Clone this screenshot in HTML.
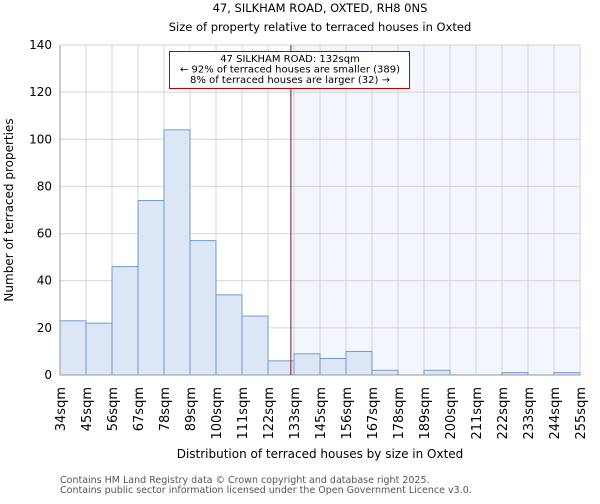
<!DOCTYPE html>
<html><head><meta charset="utf-8"><style>
body{margin:0;background:#fff;font-family:"DejaVu Sans","Liberation Sans",sans-serif;}
svg text{font-family:"DejaVu Sans","Liberation Sans",sans-serif;}
</style></head><body>
<svg id="chart" width="600" height="500" xmlns="http://www.w3.org/2000/svg">
<text x="320" y="12" text-anchor="middle" font-size="11.5">47, SILKHAM ROAD, OXTED, RH8 0NS</text>
<text x="320" y="31" text-anchor="middle" font-size="11.5">Size of property relative to terraced houses in Oxted</text>
<g id="plot"></g>
<text x="320" y="458" text-anchor="middle" font-size="12">Distribution of terraced houses by size in Oxted</text>
<text transform="translate(13,210) rotate(-90)" text-anchor="middle" font-size="12">Number of terraced properties</text>
<text x="60" y="483" font-size="9.5" fill="#555">Contains HM Land Registry data © Crown copyright and database right 2025.</text>
<text x="60" y="493" font-size="9.5" fill="#555">Contains public sector information licensed under the Open Government Licence v3.0.</text>
</svg>
<script>
const binLabels=["34sqm","45sqm","56sqm","67sqm","78sqm","89sqm","100sqm","111sqm","122sqm","133sqm","145sqm","156sqm","167sqm","178sqm","189sqm","200sqm","211sqm","222sqm","233sqm","244sqm","255sqm"];
const counts=[23,22,46,74,104,57,34,25,6,9,7,10,2,0,2,0,0,1,0,1];
const yTicks=[0,20,40,60,80,100,120,140];
const markerBin=8.88;
const annotation=["47 SILKHAM ROAD: 132sqm","← 92% of terraced houses are smaller (389)","8% of terraced houses are larger (32) →"];
const NS="http://www.w3.org/2000/svg";
const L=60,R=580,T=45,B=375,yMax=140;
const nb=counts.length,bw=(R-L)/nb;
const xs=i=>L+i*bw, ys=v=>B-v/yMax*(B-T);
const g=document.getElementById('plot');
function mk(t,a){const e=document.createElementNS(NS,t);for(const k in a)e.setAttribute(k,a[k]);g.appendChild(e);return e;}
let e=mk('rect',{x:L,y:T,width:R-L,height:B-T,fill:'#fff'});


const mx=xs(markerBin);
e=mk('rect',{x:mx,y:T,width:R-mx,height:B-T,fill:'#f4f6fd'});


for(let i=0;i<=nb;i++){e=mk('line',{x1:xs(i),x2:xs(i),y1:T,y2:B,stroke:'#d4d4d4','stroke-width':1});

}
yTicks.forEach(v=>{e=mk('line',{x1:L,x2:R,y1:ys(v),y2:ys(v),stroke:'#d4d4d4','stroke-width':1});


const t=mk('text',{x:L-8,y:ys(v)+4,'text-anchor':'end','font-size':12});t.textContent=v;

});
counts.forEach((c,i)=>{if(c<=0)return;e=mk('rect',{x:xs(i),y:ys(c),width:bw,height:B-ys(c),fill:'#dce6f5',stroke:'#6f9bd2','stroke-width':1});

});
binLabels.forEach((l,i)=>{const t=mk('text',{transform:`translate(${xs(i)+5},387) rotate(-90)`,'text-anchor':'end','font-size':13});t.textContent=l;

});
e=mk('line',{x1:L,x2:L,y1:T,y2:B,stroke:'#999'});


e=mk('line',{x1:L,x2:R,y1:B,y2:B,stroke:'#999'});


e=mk('line',{x1:mx,x2:mx,y1:T,y2:B,stroke:'#6b1a30','stroke-width':1});


e=mk('rect',{x:169.5,y:51.5,width:240,height:37,fill:'#fff',stroke:'#c00000','stroke-width':1});


annotation.forEach((s,i)=>{const t=mk('text',{x:290,y:62+i*10.5,'text-anchor':'middle','font-size':10});t.textContent=s;

});
</script>
</body></html>
